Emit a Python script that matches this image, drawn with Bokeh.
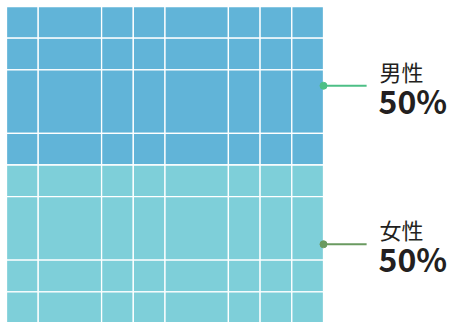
import numpy as np
from bokeh.plotting import figure
from bokeh.models import ColumnDataSource, Range1d
from bokeh.core.properties import value
from bokeh.embed import file_html
from bokeh.resources import INLINE

# Data
groups = ["男性", "女性"]
percents = [50, 50]
colors = ["#61b4d8", "#7ecfd9"]
dot_colors = ["#4dbf86", "#6a9a60"]
col_widths = [1, 2, 1, 1, 2, 1, 1, 1]          # unit widths of grid columns
row_heights = [1, 1, 2, 1, 1, 2, 1, 1]         # unit heights of grid rows, top to bottom
row_group = [0, 0, 0, 0, 1, 1, 1, 1]           # which group each row belongs to

total_w = sum(col_widths)
total_h = sum(row_heights)

W, H = 459, 322
px = 31.7
p = figure(width=W, height=H, output_backend="svg", toolbar_location=None,
           x_range=Range1d(-6 / px, (W - 6) / px),
           y_range=Range1d(total_h - (H - 6) / px, total_h + 6 / px),
           min_border=0, background_fill_color="white", border_fill_color="white")
p.axis.visible = False
p.grid.visible = False
p.outline_line_color = None

# cells
xs = np.concatenate([[0], np.cumsum(col_widths)])
ys_top = total_h - np.concatenate([[0], np.cumsum(row_heights)])
left, right, top, bottom, fill = [], [], [], [], []
for r in range(len(row_heights)):
    for c in range(len(col_widths)):
        left.append(xs[c]); right.append(xs[c + 1])
        top.append(ys_top[r]); bottom.append(ys_top[r + 1])
        fill.append(colors[row_group[r]])
p.quad(left=left, right=right, top=top, bottom=bottom, fill_color=fill,
       line_color="white", line_width=1.3)

# group centers (vertical) from share of rows
share_h = [sum(h for h, g in zip(row_heights, row_group) if g == i) for i in range(len(groups))]
centers = []
acc = total_h
for sh in share_h:
    centers.append(acc - sh / 2)
    acc -= sh

line_len = 1.36
for i in range(len(groups)):
    p.line([total_w, total_w + line_len], [centers[i], centers[i]], line_color=dot_colors[i], line_width=2)
p.scatter(x=[total_w] * len(groups), y=centers, size=7, color=dot_colors)

src = ColumnDataSource(dict(x=[total_w] * len(groups), y=centers, name=groups,
                            pct=[f"{v}%" for v in percents]))
p.text(x="x", y="y", text="name", source=src, x_offset=56, y_offset=-15,
       text_baseline="middle", text_align="left", text_font=value("Noto Sans CJK JP"),
       text_font_size="22px", text_color="#231f20")
p.text(x="x", y="y", text="pct", source=src, x_offset=55, y_offset=14,
       text_baseline="alphabetic", text_align="left", text_font=value("Noto Sans CJK JP"),
       text_font_size="32px", text_font_style="bold", text_color="#231f20")

open("out.html", "w").write(file_html(p, INLINE))
